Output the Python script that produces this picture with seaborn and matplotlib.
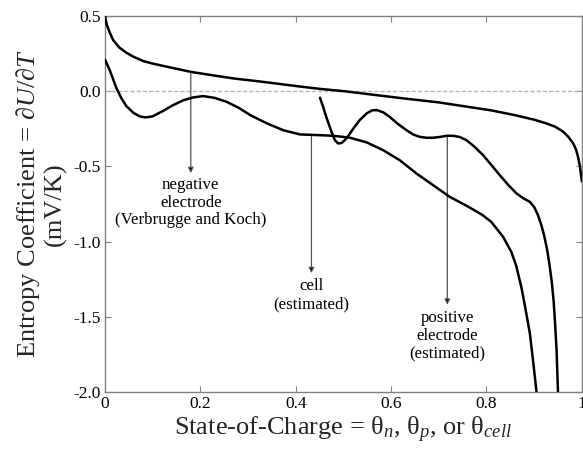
import numpy as np
import matplotlib
matplotlib.use("Agg")
import matplotlib.pyplot as plt
import seaborn as sns

# negative electrode (Verbrugge and Koch)
neg_soc = [0.0, 0.004, 0.01, 0.017, 0.03, 0.045, 0.06, 0.08, 0.1, 0.13, 0.18, 0.22,
           0.27, 0.33, 0.37, 0.41, 0.45, 0.5, 0.57, 0.63, 0.7, 0.76, 0.81, 0.86,
           0.9, 0.926, 0.945, 0.961, 0.972, 0.982, 0.988, 0.992, 0.996, 1.0]
neg_dudt = [0.50, 0.44, 0.39, 0.34, 0.29, 0.255, 0.228, 0.2, 0.183, 0.162, 0.128, 0.108,
            0.084, 0.062, 0.046, 0.03, 0.015, 0.0, -0.027, -0.05, -0.075, -0.104, -0.128, -0.16,
            -0.19, -0.215, -0.238, -0.27, -0.305, -0.348, -0.39, -0.437, -0.50, -0.60]

# cell (estimated)
cell_soc = [0.0, 0.01, 0.024, 0.035, 0.045, 0.06, 0.073, 0.085, 0.1, 0.12, 0.143, 0.165,
            0.185, 0.206, 0.23, 0.255, 0.28, 0.305, 0.34, 0.374, 0.409, 0.443, 0.479, 0.514,
            0.549, 0.583, 0.618, 0.653, 0.688, 0.723, 0.756, 0.79, 0.81, 0.835, 0.852, 0.862,
            0.873, 0.882, 0.891, 0.898, 0.905]
cell_dudt = [0.21, 0.14, 0.02, -0.05, -0.10, -0.145, -0.168, -0.175, -0.168, -0.135, -0.093, -0.06,
             -0.042, -0.033, -0.045, -0.071, -0.11, -0.16, -0.215, -0.26, -0.288, -0.292, -0.297, -0.31,
             -0.341, -0.392, -0.459, -0.547, -0.625, -0.703, -0.758, -0.82, -0.869, -0.969, -1.068, -1.157,
             -1.30, -1.45, -1.61, -1.80, -2.0]

# positive electrode (estimated)
pos_soc = [0.451, 0.458, 0.465, 0.475, 0.482, 0.489, 0.496, 0.503, 0.512, 0.521, 0.535, 0.549,
           0.56, 0.57, 0.584, 0.597, 0.615, 0.632, 0.646, 0.66, 0.674, 0.688, 0.702, 0.716,
           0.73, 0.744, 0.758, 0.775, 0.793, 0.81, 0.828, 0.846, 0.863, 0.877, 0.891, 0.9,
           0.908, 0.915, 0.921, 0.927, 0.932, 0.937, 0.941, 0.944, 0.947, 0.95]
pos_dudt = [-0.044, -0.11, -0.18, -0.27, -0.325, -0.348, -0.345, -0.326, -0.29, -0.248, -0.19, -0.148,
            -0.128, -0.126, -0.142, -0.171, -0.22, -0.259, -0.288, -0.304, -0.31, -0.31, -0.305, -0.297,
            -0.297, -0.305, -0.326, -0.37, -0.426, -0.49, -0.559, -0.625, -0.68, -0.712, -0.736, -0.77,
            -0.824, -0.89, -0.96, -1.05, -1.15, -1.27, -1.40, -1.55, -1.72, -2.0]

# annotations: x, curve y, arrow-head y, text top y, label
ann_x = [0.18, 0.433, 0.718]
ann_from = [0.128, -0.29, -0.297]
ann_to = [-0.545, -1.21, -1.42]
ann_text_y = [-0.57, -1.245, -1.455]
ann_labels = ["negative\nelectrode\n(Verbrugge and Koch)", "cell\n(estimated)",
              "positive\nelectrode\n(estimated)"]

xticks = [0, 0.2, 0.4, 0.6, 0.8, 1]
xticklabels = ["0", "0.2", "0.4", "0.6", "0.8", "1"]
yticks = [0.5, 0.0, -0.5, -1.0, -1.5, -2.0]
yticklabels = ["0.5", "0.0", "-0.5", "-1.0", "-1.5", "-2.0"]

sns.set_theme(style="ticks")
plt.rcParams["font.family"] = ["Liberation Serif", "DejaVu Serif"]
plt.rcParams["mathtext.fontset"] = "custom"
plt.rcParams["mathtext.rm"] = "Liberation Serif"
plt.rcParams["mathtext.it"] = "Liberation Serif:italic"
plt.rcParams["mathtext.bf"] = "Liberation Serif:bold"

fig = plt.figure(figsize=(5.83, 4.54), dpi=100)
ax = fig.add_axes([0.180, 0.1366, 0.818, 0.8284])

ax.axhline(0, color="#b5b5b5", lw=1.0, ls=(0, (3, 1.5)), zorder=1)

for sx, sy in [(neg_soc, neg_dudt), (cell_soc, cell_dudt), (pos_soc, pos_dudt)]:
    sns.lineplot(x=sx, y=sy, ax=ax, color="black", lw=1.8, sort=False,
                 estimator=None, zorder=3)

for x, y0, y1, ty, lab in zip(ann_x, ann_from, ann_to, ann_text_y, ann_labels):
    ax.annotate("", xy=(x, y1), xytext=(x, y0),
                arrowprops=dict(arrowstyle="-|>", color="#555555", lw=0.9,
                                mutation_scale=8, shrinkA=0, shrinkB=0,
                                fc="black"), zorder=2)
    ax.text(x, ty, lab, ha="center", va="top", fontsize=12.2,
            linespacing=1.15, color="black")

ax.set_xlim(0, 1)
ax.set_ylim(-2.0, 0.5)
ax.set_xticks(xticks)
ax.set_xticklabels(xticklabels)
ax.set_yticks(yticks)
ax.set_yticklabels(yticklabels)
ax.tick_params(direction="in", length=4, width=0.8, color="#808080",
               labelsize=12.5, top=True, right=True, pad=3, labelcolor="black")
for sp in ax.spines.values():
    sp.set_color("#808080")
    sp.set_linewidth(1.0)

ax.set_xlabel(r"State-of-Charge = θ$_{n}$, θ$_{p}$, or θ$_{cell}$", fontsize=19)
ax.xaxis.set_label_coords(0.5, -0.06)
ax.set_ylabel("Entropy Coefficient = $\\partial U/\\partial T$\n(mV/K)",
              fontsize=19, linespacing=1.1)
ax.yaxis.set_label_coords(-0.08, 0.5)

fig.savefig("out.png", dpi=100)
